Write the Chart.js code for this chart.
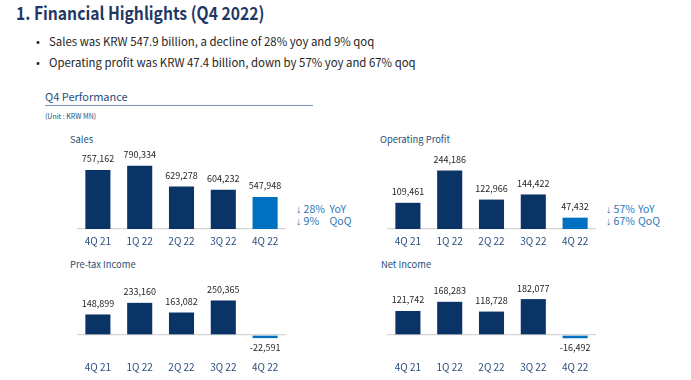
<!DOCTYPE html>
<html>
<head>
<meta charset="utf-8">
<script src="https://cdn.jsdelivr.net/npm/chart.js@4.4.1/dist/chart.umd.min.js"></script>
<style>
  html, body { margin: 0; padding: 0; background: #ffffff; }
  body { width: 691px; height: 380px; position: relative; overflow: hidden;
         font-family: 'Noto Sans CJK KR', 'Noto Sans', sans-serif; }
  .abs { position: absolute; white-space: nowrap; }
  .title { left: 16px; top: 2px; font-size: 18px; font-weight: 700; color: #1f3864; line-height: 20px;
           transform: scaleX(0.87); transform-origin: left center; }
  .bullet { left: 36px; font-size: 11.4px; color: #262626; line-height: 16px; }
  .bullet span.dot { display: inline-block; width: 13px; }
  .sec { left: 45px; top: 88px; font-size: 11px; color: #1f4e79; line-height: 16px; }
  .rule { left: 45px; top: 105px; width: 268px; height: 0; border-top: 1.3px solid #7d95b8; }
  .unit { left: 45px; top: 111px; font-size: 7px; color: #1f4e79; line-height: 10px; }
  .ctitle { font-size: 9.4px; color: #1f4e79; line-height: 14px; font-weight: 400; }
  .chg { font-size: 10.5px; color: #2e75b6; line-height: 11px; }
  .chg .col { display: inline-block; }
  .chg .ar { font-family: 'Liberation Sans', sans-serif; }
  .box { position: absolute; }
</style>
</head>
<body>
<div class="abs title">1. Financial Highlights (Q4 2022)</div>
<div class="abs bullet" style="top:33px"><span class="dot">•</span>Sales was KRW 547.9 billion, a decline of 28% yoy and 9% qoq</div>
<div class="abs bullet" style="top:54px"><span class="dot">•</span>Operating profit was KRW 47.4 billion, down by 57% yoy and 67% qoq</div>
<div class="abs sec">Q4 Performance</div>
<div class="abs rule"></div>
<div class="abs unit">(Unit : KRW MN)</div>

<div class="abs ctitle" style="left:70px; top:132px">Sales</div>
<div class="abs ctitle" style="left:380px; top:132px">Operating Profit</div>
<div class="abs ctitle" style="left:70px; top:257px">Pre-tax Income</div>
<div class="abs ctitle" style="left:381px; top:257px">Net Income</div>

<div class="abs chg" style="left:296px; top:202.5px"><span class="col" style="width:33.5px"><span class="ar">↓</span> 28%</span>YoY<br><span class="col" style="width:33.5px"><span class="ar">↓</span> 9%</span>QoQ</div>
<div class="abs chg" style="left:606px; top:202.5px"><span class="col" style="width:32px"><span class="ar">↓</span> 57%</span>YoY<br><span class="col" style="width:32px"><span class="ar">↓</span> 67%</span>QoQ</div>

<div class="box" style="left:77px; top:145px; width:209px; height:108px"><canvas id="cSales"></canvas></div>
<div class="box" style="left:387px; top:145px; width:209px; height:108px"><canvas id="cOp"></canvas></div>
<div class="box" style="left:77px; top:270px; width:209px; height:109px"><canvas id="cPre"></canvas></div>
<div class="box" style="left:387px; top:270px; width:209px; height:109px"><canvas id="cNet"></canvas></div>

<script>
const quarters = ['4Q 21', '1Q 22', '2Q 22', '3Q 22', '4Q 22'];
const sales = [757162, 790334, 629278, 604232, 547948];
const operatingProfit = [109461, 244186, 122966, 144422, 47432];
const pretaxIncome = [148899, 233160, 163082, 250365, -22591];
const netIncome = [121742, 168283, 118728, 182077, -16492];

Chart.defaults.font.family = "'Noto Sans CJK KR', 'Noto Sans', sans-serif";
Chart.defaults.animation = false;

const NAVY = '#0b3466';
const BLUE = '#0070c0';

const valueLabels = {
  id: 'valueLabels',
  afterDatasetsDraw(chart) {
    const ctx = chart.ctx;
    const meta = chart.getDatasetMeta(0);
    const vals = chart.data.datasets[0].data;
    ctx.save();
    ctx.font = "9px 'Noto Sans CJK KR', 'Noto Sans', sans-serif";
    ctx.fillStyle = '#262626';
    ctx.textAlign = 'center';
    ctx.textBaseline = 'middle';
    meta.data.forEach((bar, i) => {
      const v = vals[i];
      const txt = v.toLocaleString('en-US');
      const y = v >= 0 ? bar.y - 11 : bar.y + 9;
      ctx.fillText(txt, bar.x, y);
    });
    ctx.restore();
  }
};

function makeChart(id, values, yMin, yMax, zeroLine) {
  const colors = values.map((v, i) => i === values.length - 1 ? BLUE : NAVY);
  return new Chart(document.getElementById(id), {
    type: 'bar',
    data: {
      labels: quarters,
      datasets: [{ data: values, backgroundColor: colors, borderWidth: 0,
                   barPercentage: 0.6, categoryPercentage: 1.0 }]
    },
    options: {
      responsive: true,
      maintainAspectRatio: false,
      layout: { padding: 0 },
      plugins: { legend: { display: false }, tooltip: { enabled: false } },
      scales: {
        x: {
          grid: { display: false, drawTicks: false },
          border: { display: !zeroLine, color: '#d6d6d6', width: 1.3 },
          ticks: { color: '#2a4d7c', font: { size: 10 }, padding: 6 }
        },
        y: {
          display: zeroLine,
          min: yMin,
          max: yMax,
          afterBuildTicks: (scale) => { scale.ticks = [{ value: 0 }]; },
          grid: { color: '#d6d6d6', lineWidth: 1.3, drawTicks: false },
          border: { display: false },
          ticks: { display: false }
        }
      }
    },
    plugins: [valueLabels]
  });
}

makeChart('cSales', sales, 300000, 950500, false);
makeChart('cOp', operatingProfit, 0, 351100, false);
makeChart('cPre', pretaxIncome, -145000, 471250, true);
makeChart('cNet', netIncome, -101400, 329550, true);
</script>
</body>
</html>
